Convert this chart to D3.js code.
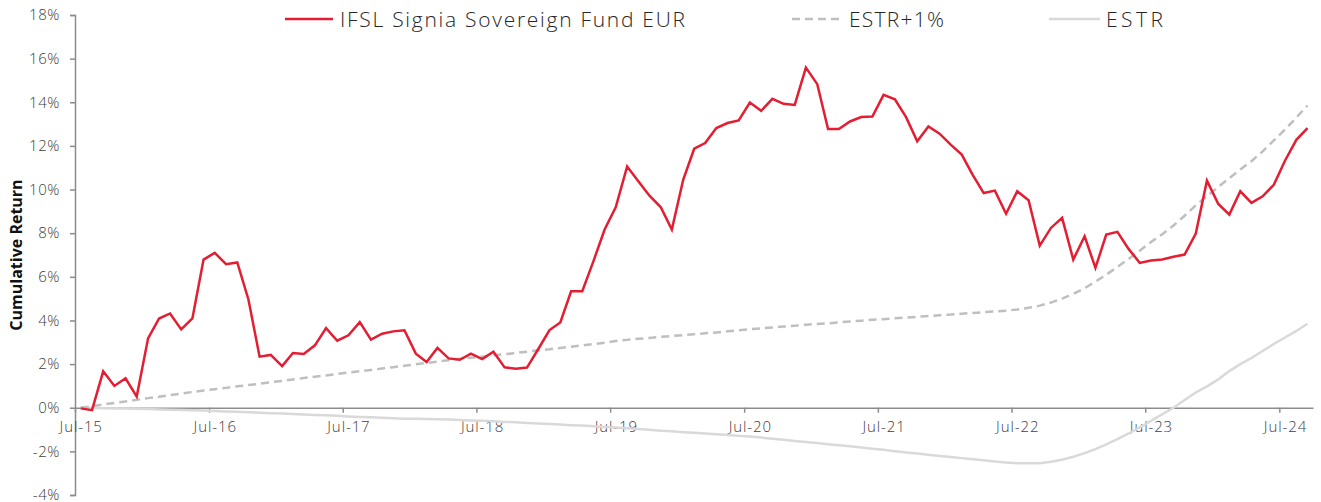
<!DOCTYPE html>
<html>
<head>
<meta charset="utf-8">
<script src="https://cdn.jsdelivr.net/npm/d3@7"></script>
<style>
  body { margin: 0; background: #fff; }
  text { font-family: "Open Sans", "Lato", sans-serif; }
</style>
</head>
<body>
<div id="chart"></div>
<script>
// monthly series, Jul-15 .. Sep-24 (cumulative return, %)
var fundValues = [
  -0.03, -0.11, 1.67, 1.00, 1.35, 0.51, 3.18, 4.09, 4.32, 3.59, 4.09, 6.79,
  7.10, 6.58, 6.66, 4.96, 2.34, 2.42, 1.91, 2.51, 2.46, 2.86, 3.65, 3.07,
  3.32, 3.92, 3.12, 3.39, 3.50, 3.55, 2.48, 2.10, 2.74, 2.26, 2.20, 2.48,
  2.23, 2.57, 1.85, 1.79, 1.84, 2.68, 3.56, 3.91, 5.34, 5.34, 6.72, 8.17,
  9.20, 11.06, 10.38, 9.72, 9.20, 8.17, 10.45, 11.87, 12.13, 12.82, 13.05, 13.17,
  13.99, 13.61, 14.16, 13.93, 13.88, 15.59, 14.83, 12.77, 12.77, 13.12, 13.32, 13.35,
  14.34, 14.14, 13.32, 12.21, 12.89, 12.56, 12.05, 11.60, 10.68, 9.84, 9.95, 8.89,
  9.92, 9.51, 7.43, 8.24, 8.70, 6.79, 7.86, 6.41, 7.94, 8.06, 7.28, 6.64,
  6.75, 6.79, 6.92, 7.02, 7.98, 10.41, 9.34, 8.85, 9.92, 9.39, 9.69, 10.22,
  11.32, 12.28, 12.82
];

var estrPlusValues = [
  0.00, 0.07, 0.15, 0.22, 0.29, 0.36, 0.44, 0.50, 0.58, 0.65, 0.72, 0.79,
  0.85, 0.91, 0.98, 1.04, 1.10, 1.17, 1.23, 1.29, 1.36, 1.42, 1.48, 1.55,
  1.61, 1.67, 1.73, 1.80, 1.86, 1.92, 1.99, 2.05, 2.11, 2.18, 2.24, 2.29,
  2.34, 2.40, 2.45, 2.51, 2.57, 2.63, 2.68, 2.74, 2.80, 2.86, 2.92, 2.98,
  3.06, 3.11, 3.16, 3.20, 3.25, 3.29, 3.33, 3.37, 3.41, 3.45, 3.50, 3.55,
  3.60, 3.64, 3.68, 3.72, 3.76, 3.80, 3.84, 3.87, 3.91, 3.95, 3.99, 4.03,
  4.06, 4.10, 4.13, 4.17, 4.20, 4.24, 4.27, 4.31, 4.34, 4.38, 4.41, 4.45,
  4.50, 4.58, 4.68, 4.82, 5.00, 5.22, 5.48, 5.78, 6.10, 6.45, 6.82, 7.20,
  7.60, 7.95, 8.35, 8.80, 9.28, 9.70, 10.12, 10.52, 10.92, 11.30, 11.75, 12.25,
  12.75, 13.30, 13.85
];

var estrValues = [
  0.00, -0.01, -0.02, -0.03, -0.04, -0.05, -0.06, -0.08, -0.09, -0.10, -0.12, -0.13,
  -0.15, -0.17, -0.19, -0.21, -0.23, -0.25, -0.27, -0.29, -0.31, -0.33, -0.35, -0.37,
  -0.40, -0.42, -0.44, -0.46, -0.48, -0.50, -0.51, -0.52, -0.53, -0.54, -0.56, -0.58,
  -0.60, -0.62, -0.65, -0.67, -0.70, -0.72, -0.75, -0.77, -0.80, -0.82, -0.85, -0.88,
  -0.91, -0.94, -0.98, -1.01, -1.05, -1.08, -1.12, -1.15, -1.18, -1.22, -1.25, -1.29,
  -1.32, -1.37, -1.42, -1.47, -1.52, -1.57, -1.62, -1.67, -1.72, -1.77, -1.82, -1.88,
  -1.93, -1.99, -2.05, -2.10, -2.16, -2.21, -2.26, -2.31, -2.36, -2.41, -2.46, -2.51,
  -2.54, -2.55, -2.54, -2.48, -2.38, -2.25, -2.08, -1.90, -1.68, -1.44, -1.18, -0.90,
  -0.60, -0.30, 0.00, 0.35, 0.70, 0.98, 1.30, 1.68, 2.00, 2.28, 2.60, 2.92,
  3.22, 3.52, 3.85
];

var yTicks = [-4, -2, 0, 2, 4, 6, 8, 10, 12, 14, 16, 18];
var seriesNames = ["IFSL Signia Sovereign Fund EUR", "ESTR+1%", "ESTR"];

var months = d3.timeMonth.range(new Date(2015, 6, 1), new Date(2024, 9, 1));
var xTickDates = d3.range(2015, 2025).map(function(yr) { return new Date(yr, 6, 1); });

var margin = {top: 15, right: 8, bottom: 7, left: 75},
    width = 1321 - margin.left - margin.right,
    height = 502 - margin.top - margin.bottom;

var svg = d3.select("#chart")
    .append("svg")
    .attr("width", 1321)
    .attr("height", 502)
    .append("g")
    .attr("transform", "translate(" + margin.left + "," + margin.top + ")");

var x = d3.scaleTime()
    .domain([new Date(2015, 6, 1), new Date(2024, 9, 1)])
    .range([0, width]);

var y = d3.scaleLinear()
    .domain([-4, 18])
    .range([height, 0]);

// points sit in the middle of each month
function xMid(d) {
    return (x(d) + x(d3.timeMonth.offset(d, 1))) / 2;
}
var halfMonth = xMid(months[0]) - x(months[0]);

// y axis
var yAxis = svg.append("g")
    .call(d3.axisLeft(y).tickValues(yTicks).tickSize(5).tickPadding(10)
        .tickFormat(function(d) { return d + "%"; }));
yAxis.select(".domain").attr("stroke", "#8c8c8c").attr("stroke-width", 1.5);
yAxis.selectAll(".tick line").attr("stroke", "#8c8c8c").attr("stroke-width", 1.5);
yAxis.selectAll(".tick text")
    .attr("fill", "#404040")
    .style("font-size", "15px")
    .style("letter-spacing", "0.6px")
    .style("font-weight", 300);

// x axis at zero line
var xAxis = svg.append("g")
    .attr("transform", "translate(0," + y(0) + ")")
    .call(d3.axisBottom(x).tickValues(xTickDates).tickSize(5).tickSizeOuter(0).tickPadding(9)
        .tickFormat(d3.timeFormat("%b-%y")));
xAxis.select(".domain").attr("stroke", "#8c8c8c").attr("stroke-width", 1.5);
xAxis.selectAll(".tick line").attr("stroke", "#8c8c8c").attr("stroke-width", 1.5);
xAxis.selectAll(".tick text")
    .attr("dx", halfMonth)
    .attr("fill", "#404040")
    .style("font-size", "15px")
    .style("letter-spacing", "0.9px")
    .style("font-weight", 300);

svg.append("text")
    .attr("transform", "rotate(-90)")
    .attr("x", -(y(7)))
    .attr("y", -53)
    .attr("text-anchor", "middle")
    .style("font-size", "16px")
    .style("font-weight", 700)
    .attr("fill", "#111")
    .text("Cumulative Return");

var line = d3.line()
    .x(function(d, i) { return xMid(months[i]); })
    .y(function(d) { return y(d); });

svg.append("path")
    .datum(estrValues)
    .attr("fill", "none")
    .attr("stroke", "#d9d9d9")
    .attr("stroke-width", 2.5)
    .attr("d", line);

svg.append("path")
    .datum(estrPlusValues)
    .attr("fill", "none")
    .attr("stroke", "#bfbfbf")
    .attr("stroke-width", 2.5)
    .style("stroke-dasharray", "8, 5")
    .attr("d", line);

svg.append("path")
    .datum(fundValues)
    .attr("fill", "none")
    .attr("stroke", "#e31e32")
    .attr("stroke-width", 2.5)
    .attr("d", line);

// legend
var legend = [
    {name: seriesNames[0], x1: 285, x2: 333, tx: 340, len: 345, color: "#e31e32", dash: null},
    {name: seriesNames[1], x1: 792, x2: 843, tx: 849, len: 95, color: "#bfbfbf", dash: "8, 5"},
    {name: seriesNames[2], x1: 1049, x2: 1100, tx: 1106, len: 57, color: "#d9d9d9", dash: null}
];
var lg = d3.select("svg").append("g");
legend.forEach(function(l) {
    lg.append("line")
        .attr("x1", l.x1).attr("x2", l.x2)
        .attr("y1", 19).attr("y2", 19)
        .attr("stroke", l.color)
        .attr("stroke-width", 2.5)
        .style("stroke-dasharray", l.dash);
    lg.append("text")
        .attr("x", l.tx)
        .attr("y", 27)
        .attr("fill", "#262626")
        .attr("textLength", l.len)
        .attr("lengthAdjust", "spacing")
        .style("font-size", "21px")
        .style("font-weight", 300)
        .text(l.name);
});
</script>
</body>
</html>
